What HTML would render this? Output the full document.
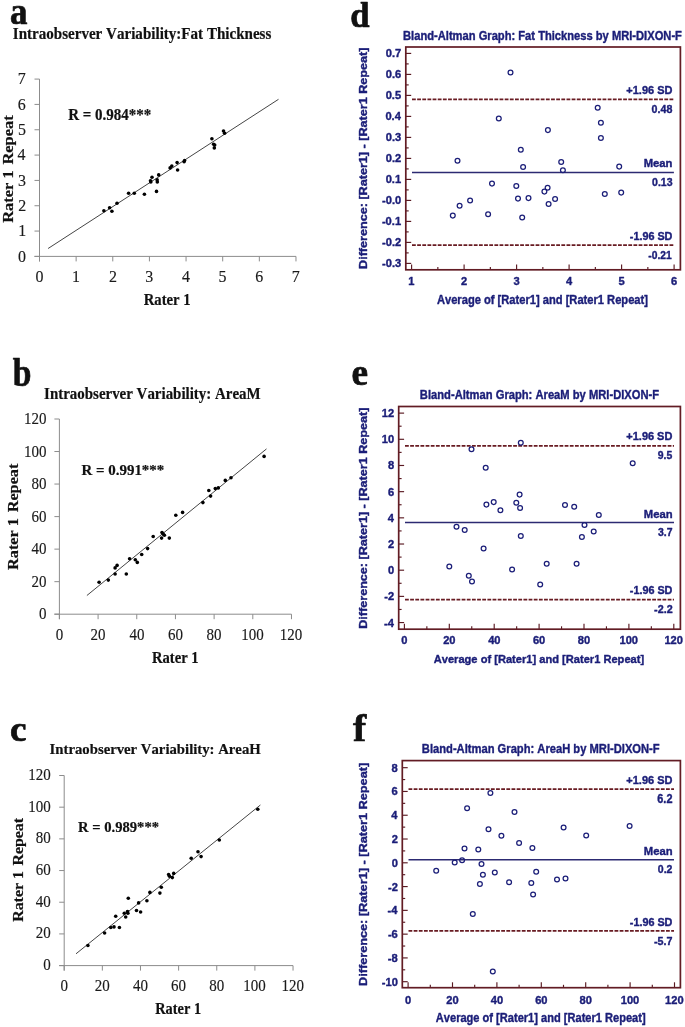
<!DOCTYPE html>
<html><head><meta charset="utf-8"><title>Figure</title>
<style>html,body{margin:0;padding:0;background:#fff;}svg{display:block;filter:blur(0.3px);}text{font-kerning:none;font-variant-ligatures:none;}</style>
</head><body>
<svg width="685" height="1027" viewBox="0 0 685 1027">
<rect width="685" height="1027" fill="#fff"/>
<text xml:space="preserve" transform="translate(9.98 23.53) scale(0.9137 1)" font-family='"Liberation Serif", serif' font-size="38.2" font-weight="bold" fill="#111" stroke="#111" stroke-width="0.7" stroke-linejoin="round">a</text>
<text xml:space="preserve" transform="translate(12.79 38.56) scale(0.9531 1)" font-family='"Liberation Serif", serif' font-size="15.82" font-weight="bold" fill="#111" stroke="#111" stroke-width="0.2" stroke-linejoin="round">Intraobserver Variability:Fat Thickness</text>
<line x1="39.5" y1="79.09" x2="39.5" y2="261.4" stroke="#8c8c8c" stroke-width="1"/>
<line x1="34.5" y1="256.4" x2="295.98" y2="256.4" stroke="#8c8c8c" stroke-width="1"/>
<line x1="39.5" y1="256.4" x2="39.5" y2="261.4" stroke="#8c8c8c" stroke-width="1"/>
<line x1="76.14" y1="256.4" x2="76.14" y2="261.4" stroke="#8c8c8c" stroke-width="1"/>
<line x1="112.78" y1="256.4" x2="112.78" y2="261.4" stroke="#8c8c8c" stroke-width="1"/>
<line x1="149.42" y1="256.4" x2="149.42" y2="261.4" stroke="#8c8c8c" stroke-width="1"/>
<line x1="186.06" y1="256.4" x2="186.06" y2="261.4" stroke="#8c8c8c" stroke-width="1"/>
<line x1="222.7" y1="256.4" x2="222.7" y2="261.4" stroke="#8c8c8c" stroke-width="1"/>
<line x1="259.34" y1="256.4" x2="259.34" y2="261.4" stroke="#8c8c8c" stroke-width="1"/>
<line x1="295.98" y1="256.4" x2="295.98" y2="261.4" stroke="#8c8c8c" stroke-width="1"/>
<line x1="34.5" y1="256.4" x2="39.5" y2="256.4" stroke="#8c8c8c" stroke-width="1"/>
<line x1="34.5" y1="231.07" x2="39.5" y2="231.07" stroke="#8c8c8c" stroke-width="1"/>
<line x1="34.5" y1="205.74" x2="39.5" y2="205.74" stroke="#8c8c8c" stroke-width="1"/>
<line x1="34.5" y1="180.41" x2="39.5" y2="180.41" stroke="#8c8c8c" stroke-width="1"/>
<line x1="34.5" y1="155.08" x2="39.5" y2="155.08" stroke="#8c8c8c" stroke-width="1"/>
<line x1="34.5" y1="129.75" x2="39.5" y2="129.75" stroke="#8c8c8c" stroke-width="1"/>
<line x1="34.5" y1="104.42" x2="39.5" y2="104.42" stroke="#8c8c8c" stroke-width="1"/>
<line x1="34.5" y1="79.09" x2="39.5" y2="79.09" stroke="#8c8c8c" stroke-width="1"/>
<text xml:space="preserve" transform="translate(17.92 261.54) scale(0.9800 1)" font-family='"Liberation Serif", serif' font-size="16.3" font-weight="normal" fill="#1a1a1a" stroke="#1a1a1a" stroke-width="0.15" stroke-linejoin="round">0</text>
<text xml:space="preserve" transform="translate(18.27 236.25) scale(0.9800 1)" font-family='"Liberation Serif", serif' font-size="16.3" font-weight="normal" fill="#1a1a1a" stroke="#1a1a1a" stroke-width="0.15" stroke-linejoin="round">1</text>
<text xml:space="preserve" transform="translate(18.19 210.94) scale(0.9800 1)" font-family='"Liberation Serif", serif' font-size="16.3" font-weight="normal" fill="#1a1a1a" stroke="#1a1a1a" stroke-width="0.15" stroke-linejoin="round">2</text>
<text xml:space="preserve" transform="translate(17.94 185.53) scale(0.9800 1)" font-family='"Liberation Serif", serif' font-size="16.3" font-weight="normal" fill="#1a1a1a" stroke="#1a1a1a" stroke-width="0.15" stroke-linejoin="round">3</text>
<text xml:space="preserve" transform="translate(17.56 160.24) scale(0.9800 1)" font-family='"Liberation Serif", serif' font-size="16.3" font-weight="normal" fill="#1a1a1a" stroke="#1a1a1a" stroke-width="0.15" stroke-linejoin="round">4</text>
<text xml:space="preserve" transform="translate(17.94 134.81) scale(0.9800 1)" font-family='"Liberation Serif", serif' font-size="16.3" font-weight="normal" fill="#1a1a1a" stroke="#1a1a1a" stroke-width="0.15" stroke-linejoin="round">5</text>
<text xml:space="preserve" transform="translate(17.79 109.54) scale(0.9800 1)" font-family='"Liberation Serif", serif' font-size="16.3" font-weight="normal" fill="#1a1a1a" stroke="#1a1a1a" stroke-width="0.15" stroke-linejoin="round">6</text>
<text xml:space="preserve" transform="translate(17.77 84.23) scale(0.9800 1)" font-family='"Liberation Serif", serif' font-size="16.3" font-weight="normal" fill="#1a1a1a" stroke="#1a1a1a" stroke-width="0.15" stroke-linejoin="round">7</text>
<text xml:space="preserve" transform="translate(35.51 282.24) scale(0.9800 1)" font-family='"Liberation Serif", serif' font-size="16.3" font-weight="normal" fill="#1a1a1a" stroke="#1a1a1a" stroke-width="0.15" stroke-linejoin="round">0</text>
<text xml:space="preserve" transform="translate(71.92 282.28) scale(0.9800 1)" font-family='"Liberation Serif", serif' font-size="16.3" font-weight="normal" fill="#1a1a1a" stroke="#1a1a1a" stroke-width="0.15" stroke-linejoin="round">1</text>
<text xml:space="preserve" transform="translate(108.88 282.3) scale(0.9800 1)" font-family='"Liberation Serif", serif' font-size="16.3" font-weight="normal" fill="#1a1a1a" stroke="#1a1a1a" stroke-width="0.15" stroke-linejoin="round">2</text>
<text xml:space="preserve" transform="translate(145.36 282.22) scale(0.9800 1)" font-family='"Liberation Serif", serif' font-size="16.3" font-weight="normal" fill="#1a1a1a" stroke="#1a1a1a" stroke-width="0.15" stroke-linejoin="round">3</text>
<text xml:space="preserve" transform="translate(182.04 282.26) scale(0.9800 1)" font-family='"Liberation Serif", serif' font-size="16.3" font-weight="normal" fill="#1a1a1a" stroke="#1a1a1a" stroke-width="0.15" stroke-linejoin="round">4</text>
<text xml:space="preserve" transform="translate(218.55 282.16) scale(0.9800 1)" font-family='"Liberation Serif", serif' font-size="16.3" font-weight="normal" fill="#1a1a1a" stroke="#1a1a1a" stroke-width="0.15" stroke-linejoin="round">5</text>
<text xml:space="preserve" transform="translate(255.24 282.22) scale(0.9800 1)" font-family='"Liberation Serif", serif' font-size="16.3" font-weight="normal" fill="#1a1a1a" stroke="#1a1a1a" stroke-width="0.15" stroke-linejoin="round">6</text>
<text xml:space="preserve" transform="translate(291.69 282.24) scale(0.9800 1)" font-family='"Liberation Serif", serif' font-size="16.3" font-weight="normal" fill="#1a1a1a" stroke="#1a1a1a" stroke-width="0.15" stroke-linejoin="round">7</text>
<line x1="48.1" y1="248.5" x2="278.5" y2="99.3" stroke="#454545" stroke-width="1"/>
<circle cx="103.9" cy="210.8" r="1.8" fill="#000"/>
<circle cx="109.6" cy="207.7" r="1.8" fill="#000"/>
<circle cx="111.9" cy="211.3" r="1.8" fill="#000"/>
<circle cx="117" cy="203.3" r="1.8" fill="#000"/>
<circle cx="128.6" cy="193.3" r="1.8" fill="#000"/>
<circle cx="134.3" cy="193.3" r="1.8" fill="#000"/>
<circle cx="144.4" cy="194.3" r="1.8" fill="#000"/>
<circle cx="152" cy="177.2" r="1.8" fill="#000"/>
<circle cx="150.5" cy="180.7" r="1.8" fill="#000"/>
<circle cx="150.8" cy="181.9" r="1.8" fill="#000"/>
<circle cx="156.5" cy="191.4" r="1.8" fill="#000"/>
<circle cx="157.1" cy="179.8" r="1.8" fill="#000"/>
<circle cx="157.3" cy="181.9" r="1.8" fill="#000"/>
<circle cx="158.7" cy="174.9" r="1.8" fill="#000"/>
<circle cx="170.1" cy="167.9" r="1.8" fill="#000"/>
<circle cx="171.8" cy="166.1" r="1.8" fill="#000"/>
<circle cx="177.1" cy="162.6" r="1.8" fill="#000"/>
<circle cx="177.6" cy="170" r="1.8" fill="#000"/>
<circle cx="184.1" cy="161.8" r="1.8" fill="#000"/>
<circle cx="184.6" cy="160.5" r="1.8" fill="#000"/>
<circle cx="211.9" cy="138.7" r="1.8" fill="#000"/>
<circle cx="213.6" cy="144.2" r="1.8" fill="#000"/>
<circle cx="214.7" cy="145" r="1.8" fill="#000"/>
<circle cx="214.3" cy="147.9" r="1.8" fill="#000"/>
<circle cx="223.5" cy="131" r="1.8" fill="#000"/>
<circle cx="224.6" cy="133.2" r="1.8" fill="#000"/>
<text xml:space="preserve" transform="translate(68.24 119.84) scale(0.9292 1)" font-family='"Liberation Serif", serif' font-size="16.15" font-weight="bold" fill="#111" stroke="#111" stroke-width="0.2" stroke-linejoin="round">R = 0.984***</text>
<text xml:space="preserve" transform="translate(143.65 304.7) scale(0.9170 1)" font-family='"Liberation Serif", serif' font-size="16.06" font-weight="bold" fill="#111" stroke="#111" stroke-width="0.2" stroke-linejoin="round">Rater 1</text>
<text xml:space="preserve" transform="translate(12.8 222.78) rotate(-90) scale(1.0627 1)" font-family='"Liberation Serif", serif' font-size="15.45" font-weight="bold" fill="#111" stroke="#111" stroke-width="0.2" stroke-linejoin="round">Rater 1 <tspan dx="1.55"></tspan><tspan dx="1.55">Repeat</tspan></text>
<text xml:space="preserve" transform="translate(12.87 386.42) scale(0.8567 1)" font-family='"Liberation Serif", serif' font-size="39.23" font-weight="bold" fill="#111" stroke="#111" stroke-width="0.7" stroke-linejoin="round">b</text>
<text xml:space="preserve" transform="translate(44.1 399.36) scale(0.9259 1)" font-family='"Liberation Serif", serif' font-size="16.14" font-weight="bold" fill="#111" stroke="#111" stroke-width="0.2" stroke-linejoin="round">Intraobserver Variability: AreaM</text>
<line x1="59.4" y1="419" x2="59.4" y2="619.2" stroke="#8c8c8c" stroke-width="1"/>
<line x1="54.4" y1="614.2" x2="291.48" y2="614.2" stroke="#8c8c8c" stroke-width="1"/>
<line x1="59.4" y1="614.2" x2="59.4" y2="619.2" stroke="#8c8c8c" stroke-width="1"/>
<line x1="98.08" y1="614.2" x2="98.08" y2="619.2" stroke="#8c8c8c" stroke-width="1"/>
<line x1="136.76" y1="614.2" x2="136.76" y2="619.2" stroke="#8c8c8c" stroke-width="1"/>
<line x1="175.44" y1="614.2" x2="175.44" y2="619.2" stroke="#8c8c8c" stroke-width="1"/>
<line x1="214.12" y1="614.2" x2="214.12" y2="619.2" stroke="#8c8c8c" stroke-width="1"/>
<line x1="252.8" y1="614.2" x2="252.8" y2="619.2" stroke="#8c8c8c" stroke-width="1"/>
<line x1="291.48" y1="614.2" x2="291.48" y2="619.2" stroke="#8c8c8c" stroke-width="1"/>
<line x1="54.4" y1="614.2" x2="59.4" y2="614.2" stroke="#8c8c8c" stroke-width="1"/>
<line x1="54.4" y1="581.67" x2="59.4" y2="581.67" stroke="#8c8c8c" stroke-width="1"/>
<line x1="54.4" y1="549.13" x2="59.4" y2="549.13" stroke="#8c8c8c" stroke-width="1"/>
<line x1="54.4" y1="516.6" x2="59.4" y2="516.6" stroke="#8c8c8c" stroke-width="1"/>
<line x1="54.4" y1="484.06" x2="59.4" y2="484.06" stroke="#8c8c8c" stroke-width="1"/>
<line x1="54.4" y1="451.53" x2="59.4" y2="451.53" stroke="#8c8c8c" stroke-width="1"/>
<line x1="54.4" y1="419" x2="59.4" y2="419" stroke="#8c8c8c" stroke-width="1"/>
<text xml:space="preserve" transform="translate(39.07 619.24) scale(0.9200 1)" font-family='"Liberation Serif", serif' font-size="16.3" font-weight="normal" fill="#1a1a1a" stroke="#1a1a1a" stroke-width="0.15" stroke-linejoin="round">0</text>
<text xml:space="preserve" transform="translate(31.58 586.71) scale(0.9200 1)" font-family='"Liberation Serif", serif' font-size="16.3" font-weight="normal" fill="#1a1a1a" stroke="#1a1a1a" stroke-width="0.15" stroke-linejoin="round">20</text>
<text xml:space="preserve" transform="translate(31.58 554.17) scale(0.9200 1)" font-family='"Liberation Serif", serif' font-size="16.3" font-weight="normal" fill="#1a1a1a" stroke="#1a1a1a" stroke-width="0.15" stroke-linejoin="round">40</text>
<text xml:space="preserve" transform="translate(31.58 521.64) scale(0.9200 1)" font-family='"Liberation Serif", serif' font-size="16.3" font-weight="normal" fill="#1a1a1a" stroke="#1a1a1a" stroke-width="0.15" stroke-linejoin="round">60</text>
<text xml:space="preserve" transform="translate(31.58 489.1) scale(0.9200 1)" font-family='"Liberation Serif", serif' font-size="16.3" font-weight="normal" fill="#1a1a1a" stroke="#1a1a1a" stroke-width="0.15" stroke-linejoin="round">80</text>
<text xml:space="preserve" transform="translate(24.08 456.57) scale(0.9200 1)" font-family='"Liberation Serif", serif' font-size="16.3" font-weight="normal" fill="#1a1a1a" stroke="#1a1a1a" stroke-width="0.15" stroke-linejoin="round">100</text>
<text xml:space="preserve" transform="translate(24.08 424.04) scale(0.9200 1)" font-family='"Liberation Serif", serif' font-size="16.3" font-weight="normal" fill="#1a1a1a" stroke="#1a1a1a" stroke-width="0.15" stroke-linejoin="round">120</text>
<text xml:space="preserve" transform="translate(55.65 639.54) scale(0.9200 1)" font-family='"Liberation Serif", serif' font-size="16.3" font-weight="normal" fill="#1a1a1a" stroke="#1a1a1a" stroke-width="0.15" stroke-linejoin="round">0</text>
<text xml:space="preserve" transform="translate(90.54 639.54) scale(0.9200 1)" font-family='"Liberation Serif", serif' font-size="16.3" font-weight="normal" fill="#1a1a1a" stroke="#1a1a1a" stroke-width="0.15" stroke-linejoin="round">20</text>
<text xml:space="preserve" transform="translate(129.4 639.54) scale(0.9200 1)" font-family='"Liberation Serif", serif' font-size="16.3" font-weight="normal" fill="#1a1a1a" stroke="#1a1a1a" stroke-width="0.15" stroke-linejoin="round">40</text>
<text xml:space="preserve" transform="translate(167.91 639.54) scale(0.9200 1)" font-family='"Liberation Serif", serif' font-size="16.3" font-weight="normal" fill="#1a1a1a" stroke="#1a1a1a" stroke-width="0.15" stroke-linejoin="round">60</text>
<text xml:space="preserve" transform="translate(206.62 639.54) scale(0.9200 1)" font-family='"Liberation Serif", serif' font-size="16.3" font-weight="normal" fill="#1a1a1a" stroke="#1a1a1a" stroke-width="0.15" stroke-linejoin="round">80</text>
<text xml:space="preserve" transform="translate(241.18 639.54) scale(0.9200 1)" font-family='"Liberation Serif", serif' font-size="16.3" font-weight="normal" fill="#1a1a1a" stroke="#1a1a1a" stroke-width="0.15" stroke-linejoin="round">100</text>
<text xml:space="preserve" transform="translate(279.86 639.54) scale(0.9200 1)" font-family='"Liberation Serif", serif' font-size="16.3" font-weight="normal" fill="#1a1a1a" stroke="#1a1a1a" stroke-width="0.15" stroke-linejoin="round">120</text>
<line x1="86.9" y1="595.5" x2="266.5" y2="448.9" stroke="#454545" stroke-width="1"/>
<circle cx="99.1" cy="582.2" r="1.8" fill="#000"/>
<circle cx="108.3" cy="580.1" r="1.8" fill="#000"/>
<circle cx="115.1" cy="574" r="1.8" fill="#000"/>
<circle cx="115.1" cy="567.9" r="1.8" fill="#000"/>
<circle cx="117.1" cy="565.4" r="1.8" fill="#000"/>
<circle cx="126.3" cy="574" r="1.8" fill="#000"/>
<circle cx="129.6" cy="558.7" r="1.8" fill="#000"/>
<circle cx="135.3" cy="559.7" r="1.8" fill="#000"/>
<circle cx="137.3" cy="562.4" r="1.8" fill="#000"/>
<circle cx="141.7" cy="554.5" r="1.8" fill="#000"/>
<circle cx="147.6" cy="548.6" r="1.8" fill="#000"/>
<circle cx="153.2" cy="536.5" r="1.8" fill="#000"/>
<circle cx="162" cy="532.5" r="1.8" fill="#000"/>
<circle cx="161.6" cy="538.1" r="1.8" fill="#000"/>
<circle cx="164.4" cy="535.3" r="1.8" fill="#000"/>
<circle cx="163.2" cy="534.1" r="1.8" fill="#000"/>
<circle cx="169.3" cy="538.1" r="1.8" fill="#000"/>
<circle cx="175.8" cy="515.2" r="1.8" fill="#000"/>
<circle cx="182.6" cy="512.4" r="1.8" fill="#000"/>
<circle cx="202.9" cy="502.6" r="1.8" fill="#000"/>
<circle cx="208.8" cy="490.5" r="1.8" fill="#000"/>
<circle cx="210.6" cy="496.1" r="1.8" fill="#000"/>
<circle cx="215.3" cy="488.6" r="1.8" fill="#000"/>
<circle cx="218.3" cy="487.9" r="1.8" fill="#000"/>
<circle cx="225.3" cy="480.4" r="1.8" fill="#000"/>
<circle cx="231" cy="477.8" r="1.8" fill="#000"/>
<circle cx="264.1" cy="456.4" r="1.8" fill="#000"/>
<text xml:space="preserve" transform="translate(81.44 475.45) scale(0.9991 1)" font-family='"Liberation Serif", serif' font-size="14.97" font-weight="bold" fill="#111" stroke="#111" stroke-width="0.2" stroke-linejoin="round">R = 0.991***</text>
<text xml:space="preserve" transform="translate(151.95 662.8) scale(0.8860 1)" font-family='"Liberation Serif", serif' font-size="16.51" font-weight="bold" fill="#111" stroke="#111" stroke-width="0.2" stroke-linejoin="round">Rater 1</text>
<text xml:space="preserve" transform="translate(18.4 569.88) rotate(-90) scale(1.0519 1)" font-family='"Liberation Serif", serif' font-size="15.45" font-weight="bold" fill="#111" stroke="#111" stroke-width="0.2" stroke-linejoin="round">Rater 1 <tspan dx="1.55"></tspan><tspan dx="1.55">Repeat</tspan></text>
<text xml:space="preserve" transform="translate(9.93 740.56) scale(1.0263 1)" font-family='"Liberation Serif", serif' font-size="36.21" font-weight="bold" fill="#111" stroke="#111" stroke-width="0.7" stroke-linejoin="round">c</text>
<text xml:space="preserve" transform="translate(49.6 754.17) scale(0.9576 1)" font-family='"Liberation Serif", serif' font-size="15.4" font-weight="bold" fill="#111" stroke="#111" stroke-width="0.2" stroke-linejoin="round">Intraobserver Variability: AreaH</text>
<line x1="64.2" y1="775.5" x2="64.2" y2="970.6" stroke="#8c8c8c" stroke-width="1"/>
<line x1="59.2" y1="965.6" x2="293.04" y2="965.6" stroke="#8c8c8c" stroke-width="1"/>
<line x1="64.2" y1="965.6" x2="64.2" y2="970.6" stroke="#8c8c8c" stroke-width="1"/>
<line x1="102.34" y1="965.6" x2="102.34" y2="970.6" stroke="#8c8c8c" stroke-width="1"/>
<line x1="140.48" y1="965.6" x2="140.48" y2="970.6" stroke="#8c8c8c" stroke-width="1"/>
<line x1="178.62" y1="965.6" x2="178.62" y2="970.6" stroke="#8c8c8c" stroke-width="1"/>
<line x1="216.76" y1="965.6" x2="216.76" y2="970.6" stroke="#8c8c8c" stroke-width="1"/>
<line x1="254.9" y1="965.6" x2="254.9" y2="970.6" stroke="#8c8c8c" stroke-width="1"/>
<line x1="293.04" y1="965.6" x2="293.04" y2="970.6" stroke="#8c8c8c" stroke-width="1"/>
<line x1="59.2" y1="965.6" x2="64.2" y2="965.6" stroke="#8c8c8c" stroke-width="1"/>
<line x1="59.2" y1="933.92" x2="64.2" y2="933.92" stroke="#8c8c8c" stroke-width="1"/>
<line x1="59.2" y1="902.23" x2="64.2" y2="902.23" stroke="#8c8c8c" stroke-width="1"/>
<line x1="59.2" y1="870.55" x2="64.2" y2="870.55" stroke="#8c8c8c" stroke-width="1"/>
<line x1="59.2" y1="838.86" x2="64.2" y2="838.86" stroke="#8c8c8c" stroke-width="1"/>
<line x1="59.2" y1="807.18" x2="64.2" y2="807.18" stroke="#8c8c8c" stroke-width="1"/>
<line x1="59.2" y1="775.5" x2="64.2" y2="775.5" stroke="#8c8c8c" stroke-width="1"/>
<text xml:space="preserve" transform="translate(43.17 970.14) scale(0.9200 1)" font-family='"Liberation Serif", serif' font-size="16.3" font-weight="normal" fill="#1a1a1a" stroke="#1a1a1a" stroke-width="0.15" stroke-linejoin="round">0</text>
<text xml:space="preserve" transform="translate(35.68 938.46) scale(0.9200 1)" font-family='"Liberation Serif", serif' font-size="16.3" font-weight="normal" fill="#1a1a1a" stroke="#1a1a1a" stroke-width="0.15" stroke-linejoin="round">20</text>
<text xml:space="preserve" transform="translate(35.68 906.77) scale(0.9200 1)" font-family='"Liberation Serif", serif' font-size="16.3" font-weight="normal" fill="#1a1a1a" stroke="#1a1a1a" stroke-width="0.15" stroke-linejoin="round">40</text>
<text xml:space="preserve" transform="translate(35.68 875.09) scale(0.9200 1)" font-family='"Liberation Serif", serif' font-size="16.3" font-weight="normal" fill="#1a1a1a" stroke="#1a1a1a" stroke-width="0.15" stroke-linejoin="round">60</text>
<text xml:space="preserve" transform="translate(35.68 843.4) scale(0.9200 1)" font-family='"Liberation Serif", serif' font-size="16.3" font-weight="normal" fill="#1a1a1a" stroke="#1a1a1a" stroke-width="0.15" stroke-linejoin="round">80</text>
<text xml:space="preserve" transform="translate(28.18 811.72) scale(0.9200 1)" font-family='"Liberation Serif", serif' font-size="16.3" font-weight="normal" fill="#1a1a1a" stroke="#1a1a1a" stroke-width="0.15" stroke-linejoin="round">100</text>
<text xml:space="preserve" transform="translate(28.18 780.04) scale(0.9200 1)" font-family='"Liberation Serif", serif' font-size="16.3" font-weight="normal" fill="#1a1a1a" stroke="#1a1a1a" stroke-width="0.15" stroke-linejoin="round">120</text>
<text xml:space="preserve" transform="translate(60.45 991.44) scale(0.9200 1)" font-family='"Liberation Serif", serif' font-size="16.3" font-weight="normal" fill="#1a1a1a" stroke="#1a1a1a" stroke-width="0.15" stroke-linejoin="round">0</text>
<text xml:space="preserve" transform="translate(94.8 991.44) scale(0.9200 1)" font-family='"Liberation Serif", serif' font-size="16.3" font-weight="normal" fill="#1a1a1a" stroke="#1a1a1a" stroke-width="0.15" stroke-linejoin="round">20</text>
<text xml:space="preserve" transform="translate(133.12 991.44) scale(0.9200 1)" font-family='"Liberation Serif", serif' font-size="16.3" font-weight="normal" fill="#1a1a1a" stroke="#1a1a1a" stroke-width="0.15" stroke-linejoin="round">40</text>
<text xml:space="preserve" transform="translate(171.09 991.44) scale(0.9200 1)" font-family='"Liberation Serif", serif' font-size="16.3" font-weight="normal" fill="#1a1a1a" stroke="#1a1a1a" stroke-width="0.15" stroke-linejoin="round">60</text>
<text xml:space="preserve" transform="translate(209.26 991.44) scale(0.9200 1)" font-family='"Liberation Serif", serif' font-size="16.3" font-weight="normal" fill="#1a1a1a" stroke="#1a1a1a" stroke-width="0.15" stroke-linejoin="round">80</text>
<text xml:space="preserve" transform="translate(243.28 991.44) scale(0.9200 1)" font-family='"Liberation Serif", serif' font-size="16.3" font-weight="normal" fill="#1a1a1a" stroke="#1a1a1a" stroke-width="0.15" stroke-linejoin="round">100</text>
<text xml:space="preserve" transform="translate(281.42 991.44) scale(0.9200 1)" font-family='"Liberation Serif", serif' font-size="16.3" font-weight="normal" fill="#1a1a1a" stroke="#1a1a1a" stroke-width="0.15" stroke-linejoin="round">120</text>
<line x1="76" y1="953.8" x2="260.4" y2="805" stroke="#454545" stroke-width="1"/>
<circle cx="87.9" cy="945.5" r="1.8" fill="#000"/>
<circle cx="104.6" cy="933" r="1.8" fill="#000"/>
<circle cx="110.8" cy="927.5" r="1.8" fill="#000"/>
<circle cx="114" cy="926.9" r="1.8" fill="#000"/>
<circle cx="119.4" cy="927.5" r="1.8" fill="#000"/>
<circle cx="115.7" cy="916.2" r="1.8" fill="#000"/>
<circle cx="124.3" cy="913.2" r="1.8" fill="#000"/>
<circle cx="125.7" cy="917" r="1.8" fill="#000"/>
<circle cx="127.5" cy="911.5" r="1.8" fill="#000"/>
<circle cx="127.9" cy="913.2" r="1.8" fill="#000"/>
<circle cx="128.3" cy="898.2" r="1.8" fill="#000"/>
<circle cx="136.5" cy="910.5" r="1.8" fill="#000"/>
<circle cx="138.6" cy="902.9" r="1.8" fill="#000"/>
<circle cx="140.6" cy="912" r="1.8" fill="#000"/>
<circle cx="146.9" cy="900.8" r="1.8" fill="#000"/>
<circle cx="149.9" cy="892.4" r="1.8" fill="#000"/>
<circle cx="159.9" cy="893.1" r="1.8" fill="#000"/>
<circle cx="161.3" cy="887.2" r="1.8" fill="#000"/>
<circle cx="168.6" cy="874.6" r="1.8" fill="#000"/>
<circle cx="169.5" cy="876.2" r="1.8" fill="#000"/>
<circle cx="172.3" cy="877.6" r="1.8" fill="#000"/>
<circle cx="173.7" cy="873.4" r="1.8" fill="#000"/>
<circle cx="191.2" cy="858.3" r="1.8" fill="#000"/>
<circle cx="198" cy="851.7" r="1.8" fill="#000"/>
<circle cx="201.1" cy="856.6" r="1.8" fill="#000"/>
<circle cx="219.3" cy="840" r="1.8" fill="#000"/>
<circle cx="257.8" cy="809.2" r="1.8" fill="#000"/>
<text xml:space="preserve" transform="translate(78.05 831.66) scale(1.0071 1)" font-family='"Liberation Serif", serif' font-size="14.52" font-weight="bold" fill="#111" stroke="#111" stroke-width="0.2" stroke-linejoin="round">R = 0.989***</text>
<text xml:space="preserve" transform="translate(155.25 1013.6) scale(0.8626 1)" font-family='"Liberation Serif", serif' font-size="16.66" font-weight="bold" fill="#111" stroke="#111" stroke-width="0.2" stroke-linejoin="round">Rater 1</text>
<text xml:space="preserve" transform="translate(22.8 921.77) rotate(-90) scale(1.0376 1)" font-family='"Liberation Serif", serif' font-size="15.3" font-weight="bold" fill="#111" stroke="#111" stroke-width="0.2" stroke-linejoin="round">Rater 1 <tspan dx="1.53"></tspan><tspan dx="1.53">Repeat</tspan></text>
<text xml:space="preserve" transform="translate(350.29 27.25) scale(0.9649 1)" font-family='"Liberation Serif", serif' font-size="35.96" font-weight="bold" fill="#111" stroke="#111" stroke-width="0.7" stroke-linejoin="round">d</text>
<text xml:space="preserve" transform="translate(403.05 39.68) scale(0.8990 1)" font-family='"Liberation Sans", sans-serif' font-size="12.43" font-weight="bold" fill="#1b1e78" stroke="#1b1e78" stroke-width="0.4" stroke-linejoin="round">Bland-Altman Graph: Fat Thickness by MRI-DIXON-F</text>
<line x1="405.8" y1="263.4" x2="411.2" y2="263.4" stroke="#5a1a22" stroke-width="1.15"/>
<line x1="405.8" y1="252.9" x2="408.7" y2="252.9" stroke="#5a1a22" stroke-width="1.15"/>
<line x1="405.8" y1="242.4" x2="411.2" y2="242.4" stroke="#5a1a22" stroke-width="1.15"/>
<line x1="405.8" y1="231.9" x2="408.7" y2="231.9" stroke="#5a1a22" stroke-width="1.15"/>
<line x1="405.8" y1="221.4" x2="411.2" y2="221.4" stroke="#5a1a22" stroke-width="1.15"/>
<line x1="405.8" y1="210.9" x2="408.7" y2="210.9" stroke="#5a1a22" stroke-width="1.15"/>
<line x1="405.8" y1="200.4" x2="411.2" y2="200.4" stroke="#5a1a22" stroke-width="1.15"/>
<line x1="405.8" y1="189.9" x2="408.7" y2="189.9" stroke="#5a1a22" stroke-width="1.15"/>
<line x1="405.8" y1="179.4" x2="411.2" y2="179.4" stroke="#5a1a22" stroke-width="1.15"/>
<line x1="405.8" y1="168.9" x2="408.7" y2="168.9" stroke="#5a1a22" stroke-width="1.15"/>
<line x1="405.8" y1="158.4" x2="411.2" y2="158.4" stroke="#5a1a22" stroke-width="1.15"/>
<line x1="405.8" y1="147.9" x2="408.7" y2="147.9" stroke="#5a1a22" stroke-width="1.15"/>
<line x1="405.8" y1="137.4" x2="411.2" y2="137.4" stroke="#5a1a22" stroke-width="1.15"/>
<line x1="405.8" y1="126.9" x2="408.7" y2="126.9" stroke="#5a1a22" stroke-width="1.15"/>
<line x1="405.8" y1="116.4" x2="411.2" y2="116.4" stroke="#5a1a22" stroke-width="1.15"/>
<line x1="405.8" y1="105.9" x2="408.7" y2="105.9" stroke="#5a1a22" stroke-width="1.15"/>
<line x1="405.8" y1="95.4" x2="411.2" y2="95.4" stroke="#5a1a22" stroke-width="1.15"/>
<line x1="405.8" y1="84.9" x2="408.7" y2="84.9" stroke="#5a1a22" stroke-width="1.15"/>
<line x1="405.8" y1="74.4" x2="411.2" y2="74.4" stroke="#5a1a22" stroke-width="1.15"/>
<line x1="405.8" y1="63.9" x2="408.7" y2="63.9" stroke="#5a1a22" stroke-width="1.15"/>
<line x1="405.8" y1="53.4" x2="411.2" y2="53.4" stroke="#5a1a22" stroke-width="1.15"/>
<line x1="411.6" y1="269.8" x2="411.6" y2="264.4" stroke="#5a1a22" stroke-width="1.15"/>
<line x1="437.85" y1="269.8" x2="437.85" y2="266.9" stroke="#5a1a22" stroke-width="1.15"/>
<line x1="464.1" y1="269.8" x2="464.1" y2="264.4" stroke="#5a1a22" stroke-width="1.15"/>
<line x1="490.35" y1="269.8" x2="490.35" y2="266.9" stroke="#5a1a22" stroke-width="1.15"/>
<line x1="516.6" y1="269.8" x2="516.6" y2="264.4" stroke="#5a1a22" stroke-width="1.15"/>
<line x1="542.85" y1="269.8" x2="542.85" y2="266.9" stroke="#5a1a22" stroke-width="1.15"/>
<line x1="569.1" y1="269.8" x2="569.1" y2="264.4" stroke="#5a1a22" stroke-width="1.15"/>
<line x1="595.35" y1="269.8" x2="595.35" y2="266.9" stroke="#5a1a22" stroke-width="1.15"/>
<line x1="621.6" y1="269.8" x2="621.6" y2="264.4" stroke="#5a1a22" stroke-width="1.15"/>
<line x1="647.85" y1="269.8" x2="647.85" y2="266.9" stroke="#5a1a22" stroke-width="1.15"/>
<line x1="674.1" y1="269.8" x2="674.1" y2="264.4" stroke="#5a1a22" stroke-width="1.15"/>
<rect x="405.8" y="47" width="274.6" height="222.8" fill="none" stroke="#621c24" stroke-width="1.7"/>
<text xml:space="preserve" transform="translate(385.81 57.39) scale(0.9600 1)" font-family='"Liberation Sans", sans-serif' font-size="11.6" font-weight="bold" fill="#1b1e78" stroke="#1b1e78" stroke-width="0.4" stroke-linejoin="round">0.7</text>
<text xml:space="preserve" transform="translate(385.72 78.39) scale(0.9600 1)" font-family='"Liberation Sans", sans-serif' font-size="11.6" font-weight="bold" fill="#1b1e78" stroke="#1b1e78" stroke-width="0.4" stroke-linejoin="round">0.6</text>
<text xml:space="preserve" transform="translate(385.63 99.39) scale(0.9600 1)" font-family='"Liberation Sans", sans-serif' font-size="11.6" font-weight="bold" fill="#1b1e78" stroke="#1b1e78" stroke-width="0.4" stroke-linejoin="round">0.5</text>
<text xml:space="preserve" transform="translate(385.38 120.39) scale(0.9600 1)" font-family='"Liberation Sans", sans-serif' font-size="11.6" font-weight="bold" fill="#1b1e78" stroke="#1b1e78" stroke-width="0.4" stroke-linejoin="round">0.4</text>
<text xml:space="preserve" transform="translate(385.72 141.38) scale(0.9600 1)" font-family='"Liberation Sans", sans-serif' font-size="11.6" font-weight="bold" fill="#1b1e78" stroke="#1b1e78" stroke-width="0.4" stroke-linejoin="round">0.3</text>
<text xml:space="preserve" transform="translate(385.77 162.39) scale(0.9600 1)" font-family='"Liberation Sans", sans-serif' font-size="11.6" font-weight="bold" fill="#1b1e78" stroke="#1b1e78" stroke-width="0.4" stroke-linejoin="round">0.2</text>
<text xml:space="preserve" transform="translate(385.63 183.39) scale(0.9600 1)" font-family='"Liberation Sans", sans-serif' font-size="11.6" font-weight="bold" fill="#1b1e78" stroke="#1b1e78" stroke-width="0.4" stroke-linejoin="round">0.1</text>
<text xml:space="preserve" transform="translate(382.07 204.39) scale(0.9600 1)" font-family='"Liberation Sans", sans-serif' font-size="11.6" font-weight="bold" fill="#1b1e78" stroke="#1b1e78" stroke-width="0.4" stroke-linejoin="round">-0.0</text>
<text xml:space="preserve" transform="translate(381.92 225.39) scale(0.9600 1)" font-family='"Liberation Sans", sans-serif' font-size="11.6" font-weight="bold" fill="#1b1e78" stroke="#1b1e78" stroke-width="0.4" stroke-linejoin="round">-0.1</text>
<text xml:space="preserve" transform="translate(382.06 246.39) scale(0.9600 1)" font-family='"Liberation Sans", sans-serif' font-size="11.6" font-weight="bold" fill="#1b1e78" stroke="#1b1e78" stroke-width="0.4" stroke-linejoin="round">-0.2</text>
<text xml:space="preserve" transform="translate(382.01 267.38) scale(0.9600 1)" font-family='"Liberation Sans", sans-serif' font-size="11.6" font-weight="bold" fill="#1b1e78" stroke="#1b1e78" stroke-width="0.4" stroke-linejoin="round">-0.3</text>
<text xml:space="preserve" transform="translate(408.31 284.99) scale(0.9600 1)" font-family='"Liberation Sans", sans-serif' font-size="11.6" font-weight="bold" fill="#1b1e78" stroke="#1b1e78" stroke-width="0.4" stroke-linejoin="round">1</text>
<text xml:space="preserve" transform="translate(461.03 285.05) scale(0.9600 1)" font-family='"Liberation Sans", sans-serif' font-size="11.6" font-weight="bold" fill="#1b1e78" stroke="#1b1e78" stroke-width="0.4" stroke-linejoin="round">2</text>
<text xml:space="preserve" transform="translate(513.58 284.98) scale(0.9600 1)" font-family='"Liberation Sans", sans-serif' font-size="11.6" font-weight="bold" fill="#1b1e78" stroke="#1b1e78" stroke-width="0.4" stroke-linejoin="round">3</text>
<text xml:space="preserve" transform="translate(565.95 284.99) scale(0.9600 1)" font-family='"Liberation Sans", sans-serif' font-size="11.6" font-weight="bold" fill="#1b1e78" stroke="#1b1e78" stroke-width="0.4" stroke-linejoin="round">4</text>
<text xml:space="preserve" transform="translate(618.49 284.93) scale(0.9600 1)" font-family='"Liberation Sans", sans-serif' font-size="11.6" font-weight="bold" fill="#1b1e78" stroke="#1b1e78" stroke-width="0.4" stroke-linejoin="round">5</text>
<text xml:space="preserve" transform="translate(671 284.99) scale(0.9600 1)" font-family='"Liberation Sans", sans-serif' font-size="11.6" font-weight="bold" fill="#1b1e78" stroke="#1b1e78" stroke-width="0.4" stroke-linejoin="round">6</text>
<line x1="412" y1="99.45" x2="673.9" y2="99.45" stroke="#681b22" stroke-width="1.75" stroke-dasharray="3.8 1.35"/>
<line x1="412" y1="245" x2="673.9" y2="245" stroke="#681b22" stroke-width="1.75" stroke-dasharray="3.8 1.35"/>
<line x1="412" y1="172.5" x2="673.9" y2="172.5" stroke="#2c2a72" stroke-width="1.5"/>
<text xml:space="preserve" transform="translate(626.34 94.19) scale(0.9725 1)" font-family='"Liberation Sans", sans-serif' font-size="11.3" font-weight="bold" fill="#1b1e78" stroke="#1b1e78" stroke-width="0.4" stroke-linejoin="round">+1.96 SD</text>
<text xml:space="preserve" transform="translate(651.58 113.19) scale(0.9435 1)" font-family='"Liberation Sans", sans-serif' font-size="11.3" font-weight="bold" fill="#1b1e78" stroke="#1b1e78" stroke-width="0.4" stroke-linejoin="round">0.48</text>
<text xml:space="preserve" transform="translate(643.75 167.2) scale(1.0182 1)" font-family='"Liberation Sans", sans-serif' font-size="11.05" font-weight="bold" fill="#1b1e78" stroke="#1b1e78" stroke-width="0.4" stroke-linejoin="round">Mean</text>
<text xml:space="preserve" transform="translate(652.08 185.67) scale(0.9458 1)" font-family='"Liberation Sans", sans-serif' font-size="11.14" font-weight="bold" fill="#1b1e78" stroke="#1b1e78" stroke-width="0.4" stroke-linejoin="round">0.13</text>
<text xml:space="preserve" transform="translate(629.78 239.89) scale(0.9816 1)" font-family='"Liberation Sans", sans-serif' font-size="11.02" font-weight="bold" fill="#1b1e78" stroke="#1b1e78" stroke-width="0.4" stroke-linejoin="round">-1.96 SD</text>
<text xml:space="preserve" transform="translate(648.3 258.79) scale(0.9008 1)" font-family='"Liberation Sans", sans-serif' font-size="11.44" font-weight="bold" fill="#1b1e78" stroke="#1b1e78" stroke-width="0.4" stroke-linejoin="round">-0.21</text>
<circle cx="510.5" cy="72.4" r="2.4" fill="none" stroke="#1b1e78" stroke-width="1.25"/>
<circle cx="498.8" cy="118.4" r="2.4" fill="none" stroke="#1b1e78" stroke-width="1.25"/>
<circle cx="547.9" cy="130.1" r="2.4" fill="none" stroke="#1b1e78" stroke-width="1.25"/>
<circle cx="520.8" cy="149.7" r="2.4" fill="none" stroke="#1b1e78" stroke-width="1.25"/>
<circle cx="457.5" cy="160.7" r="2.4" fill="none" stroke="#1b1e78" stroke-width="1.25"/>
<circle cx="523.1" cy="167" r="2.4" fill="none" stroke="#1b1e78" stroke-width="1.25"/>
<circle cx="561.2" cy="162" r="2.4" fill="none" stroke="#1b1e78" stroke-width="1.25"/>
<circle cx="562.9" cy="170.2" r="2.4" fill="none" stroke="#1b1e78" stroke-width="1.25"/>
<circle cx="492" cy="183.6" r="2.4" fill="none" stroke="#1b1e78" stroke-width="1.25"/>
<circle cx="516.3" cy="186" r="2.4" fill="none" stroke="#1b1e78" stroke-width="1.25"/>
<circle cx="547.6" cy="187.8" r="2.4" fill="none" stroke="#1b1e78" stroke-width="1.25"/>
<circle cx="544.4" cy="191.6" r="2.4" fill="none" stroke="#1b1e78" stroke-width="1.25"/>
<circle cx="470.1" cy="200.4" r="2.4" fill="none" stroke="#1b1e78" stroke-width="1.25"/>
<circle cx="518" cy="198.6" r="2.4" fill="none" stroke="#1b1e78" stroke-width="1.25"/>
<circle cx="528.5" cy="198.1" r="2.4" fill="none" stroke="#1b1e78" stroke-width="1.25"/>
<circle cx="555.1" cy="199" r="2.4" fill="none" stroke="#1b1e78" stroke-width="1.25"/>
<circle cx="459.6" cy="205.8" r="2.4" fill="none" stroke="#1b1e78" stroke-width="1.25"/>
<circle cx="548.6" cy="203.9" r="2.4" fill="none" stroke="#1b1e78" stroke-width="1.25"/>
<circle cx="452.8" cy="215.6" r="2.4" fill="none" stroke="#1b1e78" stroke-width="1.25"/>
<circle cx="488.1" cy="214.2" r="2.4" fill="none" stroke="#1b1e78" stroke-width="1.25"/>
<circle cx="522.2" cy="217.5" r="2.4" fill="none" stroke="#1b1e78" stroke-width="1.25"/>
<circle cx="597.7" cy="107.8" r="2.4" fill="none" stroke="#1b1e78" stroke-width="1.25"/>
<circle cx="600.9" cy="122.7" r="2.4" fill="none" stroke="#1b1e78" stroke-width="1.25"/>
<circle cx="600.9" cy="137.9" r="2.4" fill="none" stroke="#1b1e78" stroke-width="1.25"/>
<circle cx="619.2" cy="166.6" r="2.4" fill="none" stroke="#1b1e78" stroke-width="1.25"/>
<circle cx="604.8" cy="194" r="2.4" fill="none" stroke="#1b1e78" stroke-width="1.25"/>
<circle cx="621.2" cy="192.6" r="2.4" fill="none" stroke="#1b1e78" stroke-width="1.25"/>
<text xml:space="preserve" transform="translate(436.92 303.8) scale(0.8818 1)" font-family='"Liberation Sans", sans-serif' font-size="12.65" font-weight="bold" fill="#1b1e78" stroke="#1b1e78" stroke-width="0.4" stroke-linejoin="round">Average of [Rater1] and [Rater1 Repeat]</text>
<text xml:space="preserve" transform="translate(366.9 268.94) rotate(-90) scale(1.1123 1)" font-family='"Liberation Sans", sans-serif' font-size="11.34" font-weight="bold" fill="#1b1e78" stroke="#1b1e78" stroke-width="0.4" stroke-linejoin="round">Difference: [Rater1] - [Rater1 Repeat]</text>
<text xml:space="preserve" transform="translate(351.43 384.86) scale(1.0037 1)" font-family='"Liberation Serif", serif' font-size="37.12" font-weight="bold" fill="#111" stroke="#111" stroke-width="0.7" stroke-linejoin="round">e</text>
<text xml:space="preserve" transform="translate(419.85 399.18) scale(0.8807 1)" font-family='"Liberation Sans", sans-serif' font-size="12.71" font-weight="bold" fill="#1b1e78" stroke="#1b1e78" stroke-width="0.4" stroke-linejoin="round">Bland-Altman Graph: AreaM by MRI-DIXON-F</text>
<line x1="398.7" y1="622.56" x2="404.1" y2="622.56" stroke="#5a1a22" stroke-width="1.15"/>
<line x1="398.7" y1="609.47" x2="401.6" y2="609.47" stroke="#5a1a22" stroke-width="1.15"/>
<line x1="398.7" y1="596.38" x2="404.1" y2="596.38" stroke="#5a1a22" stroke-width="1.15"/>
<line x1="398.7" y1="583.29" x2="401.6" y2="583.29" stroke="#5a1a22" stroke-width="1.15"/>
<line x1="398.7" y1="570.2" x2="404.1" y2="570.2" stroke="#5a1a22" stroke-width="1.15"/>
<line x1="398.7" y1="557.11" x2="401.6" y2="557.11" stroke="#5a1a22" stroke-width="1.15"/>
<line x1="398.7" y1="544.02" x2="404.1" y2="544.02" stroke="#5a1a22" stroke-width="1.15"/>
<line x1="398.7" y1="530.93" x2="401.6" y2="530.93" stroke="#5a1a22" stroke-width="1.15"/>
<line x1="398.7" y1="517.84" x2="404.1" y2="517.84" stroke="#5a1a22" stroke-width="1.15"/>
<line x1="398.7" y1="504.75" x2="401.6" y2="504.75" stroke="#5a1a22" stroke-width="1.15"/>
<line x1="398.7" y1="491.66" x2="404.1" y2="491.66" stroke="#5a1a22" stroke-width="1.15"/>
<line x1="398.7" y1="478.57" x2="401.6" y2="478.57" stroke="#5a1a22" stroke-width="1.15"/>
<line x1="398.7" y1="465.48" x2="404.1" y2="465.48" stroke="#5a1a22" stroke-width="1.15"/>
<line x1="398.7" y1="452.39" x2="401.6" y2="452.39" stroke="#5a1a22" stroke-width="1.15"/>
<line x1="398.7" y1="439.3" x2="404.1" y2="439.3" stroke="#5a1a22" stroke-width="1.15"/>
<line x1="398.7" y1="426.21" x2="401.6" y2="426.21" stroke="#5a1a22" stroke-width="1.15"/>
<line x1="398.7" y1="413.12" x2="404.1" y2="413.12" stroke="#5a1a22" stroke-width="1.15"/>
<line x1="404.4" y1="629.2" x2="404.4" y2="623.8" stroke="#5a1a22" stroke-width="1.15"/>
<line x1="426.85" y1="629.2" x2="426.85" y2="626.3" stroke="#5a1a22" stroke-width="1.15"/>
<line x1="449.3" y1="629.2" x2="449.3" y2="623.8" stroke="#5a1a22" stroke-width="1.15"/>
<line x1="471.75" y1="629.2" x2="471.75" y2="626.3" stroke="#5a1a22" stroke-width="1.15"/>
<line x1="494.2" y1="629.2" x2="494.2" y2="623.8" stroke="#5a1a22" stroke-width="1.15"/>
<line x1="516.65" y1="629.2" x2="516.65" y2="626.3" stroke="#5a1a22" stroke-width="1.15"/>
<line x1="539.1" y1="629.2" x2="539.1" y2="623.8" stroke="#5a1a22" stroke-width="1.15"/>
<line x1="561.55" y1="629.2" x2="561.55" y2="626.3" stroke="#5a1a22" stroke-width="1.15"/>
<line x1="584" y1="629.2" x2="584" y2="623.8" stroke="#5a1a22" stroke-width="1.15"/>
<line x1="606.45" y1="629.2" x2="606.45" y2="626.3" stroke="#5a1a22" stroke-width="1.15"/>
<line x1="628.9" y1="629.2" x2="628.9" y2="623.8" stroke="#5a1a22" stroke-width="1.15"/>
<line x1="651.35" y1="629.2" x2="651.35" y2="626.3" stroke="#5a1a22" stroke-width="1.15"/>
<line x1="673.8" y1="629.2" x2="673.8" y2="623.8" stroke="#5a1a22" stroke-width="1.15"/>
<rect x="398.7" y="406.5" width="281.7" height="222.7" fill="none" stroke="#621c24" stroke-width="1.7"/>
<text xml:space="preserve" transform="translate(381.86 417.17) scale(0.9600 1)" font-family='"Liberation Sans", sans-serif' font-size="11.6" font-weight="bold" fill="#1b1e78" stroke="#1b1e78" stroke-width="0.4" stroke-linejoin="round">12</text>
<text xml:space="preserve" transform="translate(381.87 443.29) scale(0.9600 1)" font-family='"Liberation Sans", sans-serif' font-size="11.6" font-weight="bold" fill="#1b1e78" stroke="#1b1e78" stroke-width="0.4" stroke-linejoin="round">10</text>
<text xml:space="preserve" transform="translate(387.95 469.47) scale(0.9600 1)" font-family='"Liberation Sans", sans-serif' font-size="11.6" font-weight="bold" fill="#1b1e78" stroke="#1b1e78" stroke-width="0.4" stroke-linejoin="round">8</text>
<text xml:space="preserve" transform="translate(388.01 495.65) scale(0.9600 1)" font-family='"Liberation Sans", sans-serif' font-size="11.6" font-weight="bold" fill="#1b1e78" stroke="#1b1e78" stroke-width="0.4" stroke-linejoin="round">6</text>
<text xml:space="preserve" transform="translate(387.67 521.83) scale(0.9600 1)" font-family='"Liberation Sans", sans-serif' font-size="11.6" font-weight="bold" fill="#1b1e78" stroke="#1b1e78" stroke-width="0.4" stroke-linejoin="round">4</text>
<text xml:space="preserve" transform="translate(388.05 548.07) scale(0.9600 1)" font-family='"Liberation Sans", sans-serif' font-size="11.6" font-weight="bold" fill="#1b1e78" stroke="#1b1e78" stroke-width="0.4" stroke-linejoin="round">2</text>
<text xml:space="preserve" transform="translate(388.06 574.19) scale(0.9600 1)" font-family='"Liberation Sans", sans-serif' font-size="11.6" font-weight="bold" fill="#1b1e78" stroke="#1b1e78" stroke-width="0.4" stroke-linejoin="round">0</text>
<text xml:space="preserve" transform="translate(384.34 600.43) scale(0.9600 1)" font-family='"Liberation Sans", sans-serif' font-size="11.6" font-weight="bold" fill="#1b1e78" stroke="#1b1e78" stroke-width="0.4" stroke-linejoin="round">-2</text>
<text xml:space="preserve" transform="translate(383.96 626.55) scale(0.9600 1)" font-family='"Liberation Sans", sans-serif' font-size="11.6" font-weight="bold" fill="#1b1e78" stroke="#1b1e78" stroke-width="0.4" stroke-linejoin="round">-4</text>
<text xml:space="preserve" transform="translate(401.31 644.29) scale(0.9600 1)" font-family='"Liberation Sans", sans-serif' font-size="11.6" font-weight="bold" fill="#1b1e78" stroke="#1b1e78" stroke-width="0.4" stroke-linejoin="round">0</text>
<text xml:space="preserve" transform="translate(443.14 644.29) scale(0.9600 1)" font-family='"Liberation Sans", sans-serif' font-size="11.6" font-weight="bold" fill="#1b1e78" stroke="#1b1e78" stroke-width="0.4" stroke-linejoin="round">20</text>
<text xml:space="preserve" transform="translate(488.15 644.29) scale(0.9600 1)" font-family='"Liberation Sans", sans-serif' font-size="11.6" font-weight="bold" fill="#1b1e78" stroke="#1b1e78" stroke-width="0.4" stroke-linejoin="round">40</text>
<text xml:space="preserve" transform="translate(532.93 644.29) scale(0.9600 1)" font-family='"Liberation Sans", sans-serif' font-size="11.6" font-weight="bold" fill="#1b1e78" stroke="#1b1e78" stroke-width="0.4" stroke-linejoin="round">60</text>
<text xml:space="preserve" transform="translate(577.86 644.29) scale(0.9600 1)" font-family='"Liberation Sans", sans-serif' font-size="11.6" font-weight="bold" fill="#1b1e78" stroke="#1b1e78" stroke-width="0.4" stroke-linejoin="round">80</text>
<text xml:space="preserve" transform="translate(619.49 644.29) scale(0.9600 1)" font-family='"Liberation Sans", sans-serif' font-size="11.6" font-weight="bold" fill="#1b1e78" stroke="#1b1e78" stroke-width="0.4" stroke-linejoin="round">100</text>
<text xml:space="preserve" transform="translate(664.39 644.29) scale(0.9600 1)" font-family='"Liberation Sans", sans-serif' font-size="11.6" font-weight="bold" fill="#1b1e78" stroke="#1b1e78" stroke-width="0.4" stroke-linejoin="round">120</text>
<line x1="405" y1="445.8" x2="674" y2="445.8" stroke="#681b22" stroke-width="1.75" stroke-dasharray="3.8 1.35"/>
<line x1="405" y1="599.6" x2="674" y2="599.6" stroke="#681b22" stroke-width="1.75" stroke-dasharray="3.8 1.35"/>
<line x1="405" y1="522.5" x2="674" y2="522.5" stroke="#2c2a72" stroke-width="1.5"/>
<text xml:space="preserve" transform="translate(626.34 440.4) scale(1.0374 1)" font-family='"Liberation Sans", sans-serif' font-size="10.59" font-weight="bold" fill="#1b1e78" stroke="#1b1e78" stroke-width="0.4" stroke-linejoin="round">+1.96 SD</text>
<text xml:space="preserve" transform="translate(657.84 459.39) scale(0.9558 1)" font-family='"Liberation Sans", sans-serif' font-size="10.88" font-weight="bold" fill="#1b1e78" stroke="#1b1e78" stroke-width="0.4" stroke-linejoin="round">9.5</text>
<text xml:space="preserve" transform="translate(643.85 517.6) scale(0.9673 1)" font-family='"Liberation Sans", sans-serif' font-size="11.63" font-weight="bold" fill="#1b1e78" stroke="#1b1e78" stroke-width="0.4" stroke-linejoin="round">Mean</text>
<text xml:space="preserve" transform="translate(657.96 536.37) scale(0.9023 1)" font-family='"Liberation Sans", sans-serif' font-size="11.56" font-weight="bold" fill="#1b1e78" stroke="#1b1e78" stroke-width="0.4" stroke-linejoin="round">3.7</text>
<text xml:space="preserve" transform="translate(629.78 594.49) scale(0.9944 1)" font-family='"Liberation Sans", sans-serif' font-size="10.88" font-weight="bold" fill="#1b1e78" stroke="#1b1e78" stroke-width="0.4" stroke-linejoin="round">-1.96 SD</text>
<text xml:space="preserve" transform="translate(654.08 613.3) scale(0.9397 1)" font-family='"Liberation Sans", sans-serif' font-size="11.46" font-weight="bold" fill="#1b1e78" stroke="#1b1e78" stroke-width="0.4" stroke-linejoin="round">-2.2</text>
<circle cx="449.3" cy="566.6" r="2.4" fill="none" stroke="#1b1e78" stroke-width="1.25"/>
<circle cx="468.8" cy="575.8" r="2.4" fill="none" stroke="#1b1e78" stroke-width="1.25"/>
<circle cx="472" cy="581.5" r="2.4" fill="none" stroke="#1b1e78" stroke-width="1.25"/>
<circle cx="520.8" cy="442.7" r="2.4" fill="none" stroke="#1b1e78" stroke-width="1.25"/>
<circle cx="471.5" cy="449.3" r="2.4" fill="none" stroke="#1b1e78" stroke-width="1.25"/>
<circle cx="485.7" cy="467.7" r="2.4" fill="none" stroke="#1b1e78" stroke-width="1.25"/>
<circle cx="519.6" cy="494.6" r="2.4" fill="none" stroke="#1b1e78" stroke-width="1.25"/>
<circle cx="486.4" cy="504.6" r="2.4" fill="none" stroke="#1b1e78" stroke-width="1.25"/>
<circle cx="493.7" cy="502.1" r="2.4" fill="none" stroke="#1b1e78" stroke-width="1.25"/>
<circle cx="516.3" cy="502.8" r="2.4" fill="none" stroke="#1b1e78" stroke-width="1.25"/>
<circle cx="520.1" cy="507.9" r="2.4" fill="none" stroke="#1b1e78" stroke-width="1.25"/>
<circle cx="500.4" cy="510.3" r="2.4" fill="none" stroke="#1b1e78" stroke-width="1.25"/>
<circle cx="456.5" cy="526.8" r="2.4" fill="none" stroke="#1b1e78" stroke-width="1.25"/>
<circle cx="464.7" cy="529.9" r="2.4" fill="none" stroke="#1b1e78" stroke-width="1.25"/>
<circle cx="520.8" cy="536" r="2.4" fill="none" stroke="#1b1e78" stroke-width="1.25"/>
<circle cx="483.6" cy="548.6" r="2.4" fill="none" stroke="#1b1e78" stroke-width="1.25"/>
<circle cx="512.1" cy="569.6" r="2.4" fill="none" stroke="#1b1e78" stroke-width="1.25"/>
<circle cx="546.7" cy="563.7" r="2.4" fill="none" stroke="#1b1e78" stroke-width="1.25"/>
<circle cx="540.2" cy="584.5" r="2.4" fill="none" stroke="#1b1e78" stroke-width="1.25"/>
<circle cx="632.7" cy="463.3" r="2.4" fill="none" stroke="#1b1e78" stroke-width="1.25"/>
<circle cx="565" cy="505" r="2.4" fill="none" stroke="#1b1e78" stroke-width="1.25"/>
<circle cx="574.2" cy="506.7" r="2.4" fill="none" stroke="#1b1e78" stroke-width="1.25"/>
<circle cx="598.8" cy="514.9" r="2.4" fill="none" stroke="#1b1e78" stroke-width="1.25"/>
<circle cx="584.5" cy="525" r="2.4" fill="none" stroke="#1b1e78" stroke-width="1.25"/>
<circle cx="593.7" cy="531.5" r="2.4" fill="none" stroke="#1b1e78" stroke-width="1.25"/>
<circle cx="581.9" cy="537" r="2.4" fill="none" stroke="#1b1e78" stroke-width="1.25"/>
<circle cx="576.6" cy="563.8" r="2.4" fill="none" stroke="#1b1e78" stroke-width="1.25"/>
<text xml:space="preserve" transform="translate(433.72 663.2) scale(0.9440 1)" font-family='"Liberation Sans", sans-serif' font-size="11.77" font-weight="bold" fill="#1b1e78" stroke="#1b1e78" stroke-width="0.4" stroke-linejoin="round">Average of [Rater1] and [Rater1 Repeat]</text>
<text xml:space="preserve" transform="translate(367 628.74) rotate(-90) scale(1.1258 1)" font-family='"Liberation Sans", sans-serif' font-size="11.19" font-weight="bold" fill="#1b1e78" stroke="#1b1e78" stroke-width="0.4" stroke-linejoin="round">Difference: [Rater1] - [Rater1 Repeat]</text>
<text xml:space="preserve" transform="translate(353.01 740.5) scale(1.0263 1)" font-family='"Liberation Serif", serif' font-size="38.63" font-weight="bold" fill="#111" stroke="#111" stroke-width="0.7" stroke-linejoin="round">f</text>
<text xml:space="preserve" transform="translate(421.85 753.37) scale(0.8517 1)" font-family='"Liberation Sans", sans-serif' font-size="13.14" font-weight="bold" fill="#1b1e78" stroke="#1b1e78" stroke-width="0.4" stroke-linejoin="round">Bland-Altman Graph: AreaH by MRI-DIXON-F</text>
<line x1="402.3" y1="981.7" x2="407.7" y2="981.7" stroke="#5a1a22" stroke-width="1.15"/>
<line x1="402.3" y1="969.81" x2="405.2" y2="969.81" stroke="#5a1a22" stroke-width="1.15"/>
<line x1="402.3" y1="957.92" x2="407.7" y2="957.92" stroke="#5a1a22" stroke-width="1.15"/>
<line x1="402.3" y1="946.03" x2="405.2" y2="946.03" stroke="#5a1a22" stroke-width="1.15"/>
<line x1="402.3" y1="934.14" x2="407.7" y2="934.14" stroke="#5a1a22" stroke-width="1.15"/>
<line x1="402.3" y1="922.25" x2="405.2" y2="922.25" stroke="#5a1a22" stroke-width="1.15"/>
<line x1="402.3" y1="910.36" x2="407.7" y2="910.36" stroke="#5a1a22" stroke-width="1.15"/>
<line x1="402.3" y1="898.47" x2="405.2" y2="898.47" stroke="#5a1a22" stroke-width="1.15"/>
<line x1="402.3" y1="886.58" x2="407.7" y2="886.58" stroke="#5a1a22" stroke-width="1.15"/>
<line x1="402.3" y1="874.69" x2="405.2" y2="874.69" stroke="#5a1a22" stroke-width="1.15"/>
<line x1="402.3" y1="862.8" x2="407.7" y2="862.8" stroke="#5a1a22" stroke-width="1.15"/>
<line x1="402.3" y1="850.91" x2="405.2" y2="850.91" stroke="#5a1a22" stroke-width="1.15"/>
<line x1="402.3" y1="839.02" x2="407.7" y2="839.02" stroke="#5a1a22" stroke-width="1.15"/>
<line x1="402.3" y1="827.13" x2="405.2" y2="827.13" stroke="#5a1a22" stroke-width="1.15"/>
<line x1="402.3" y1="815.24" x2="407.7" y2="815.24" stroke="#5a1a22" stroke-width="1.15"/>
<line x1="402.3" y1="803.35" x2="405.2" y2="803.35" stroke="#5a1a22" stroke-width="1.15"/>
<line x1="402.3" y1="791.46" x2="407.7" y2="791.46" stroke="#5a1a22" stroke-width="1.15"/>
<line x1="402.3" y1="779.57" x2="405.2" y2="779.57" stroke="#5a1a22" stroke-width="1.15"/>
<line x1="402.3" y1="767.68" x2="407.7" y2="767.68" stroke="#5a1a22" stroke-width="1.15"/>
<line x1="408.1" y1="987.7" x2="408.1" y2="982.3" stroke="#5a1a22" stroke-width="1.15"/>
<line x1="430.3" y1="987.7" x2="430.3" y2="984.8" stroke="#5a1a22" stroke-width="1.15"/>
<line x1="452.5" y1="987.7" x2="452.5" y2="982.3" stroke="#5a1a22" stroke-width="1.15"/>
<line x1="474.7" y1="987.7" x2="474.7" y2="984.8" stroke="#5a1a22" stroke-width="1.15"/>
<line x1="496.9" y1="987.7" x2="496.9" y2="982.3" stroke="#5a1a22" stroke-width="1.15"/>
<line x1="519.1" y1="987.7" x2="519.1" y2="984.8" stroke="#5a1a22" stroke-width="1.15"/>
<line x1="541.3" y1="987.7" x2="541.3" y2="982.3" stroke="#5a1a22" stroke-width="1.15"/>
<line x1="563.5" y1="987.7" x2="563.5" y2="984.8" stroke="#5a1a22" stroke-width="1.15"/>
<line x1="585.7" y1="987.7" x2="585.7" y2="982.3" stroke="#5a1a22" stroke-width="1.15"/>
<line x1="607.9" y1="987.7" x2="607.9" y2="984.8" stroke="#5a1a22" stroke-width="1.15"/>
<line x1="630.1" y1="987.7" x2="630.1" y2="982.3" stroke="#5a1a22" stroke-width="1.15"/>
<line x1="652.3" y1="987.7" x2="652.3" y2="984.8" stroke="#5a1a22" stroke-width="1.15"/>
<line x1="674.5" y1="987.7" x2="674.5" y2="982.3" stroke="#5a1a22" stroke-width="1.15"/>
<rect x="402.3" y="760.6" width="278.1" height="227.1" fill="none" stroke="#621c24" stroke-width="1.7"/>
<text xml:space="preserve" transform="translate(391.55 771.67) scale(0.9600 1)" font-family='"Liberation Sans", sans-serif' font-size="11.6" font-weight="bold" fill="#1b1e78" stroke="#1b1e78" stroke-width="0.4" stroke-linejoin="round">8</text>
<text xml:space="preserve" transform="translate(391.61 795.45) scale(0.9600 1)" font-family='"Liberation Sans", sans-serif' font-size="11.6" font-weight="bold" fill="#1b1e78" stroke="#1b1e78" stroke-width="0.4" stroke-linejoin="round">6</text>
<text xml:space="preserve" transform="translate(391.27 819.23) scale(0.9600 1)" font-family='"Liberation Sans", sans-serif' font-size="11.6" font-weight="bold" fill="#1b1e78" stroke="#1b1e78" stroke-width="0.4" stroke-linejoin="round">4</text>
<text xml:space="preserve" transform="translate(391.65 843.07) scale(0.9600 1)" font-family='"Liberation Sans", sans-serif' font-size="11.6" font-weight="bold" fill="#1b1e78" stroke="#1b1e78" stroke-width="0.4" stroke-linejoin="round">2</text>
<text xml:space="preserve" transform="translate(391.66 866.79) scale(0.9600 1)" font-family='"Liberation Sans", sans-serif' font-size="11.6" font-weight="bold" fill="#1b1e78" stroke="#1b1e78" stroke-width="0.4" stroke-linejoin="round">0</text>
<text xml:space="preserve" transform="translate(387.94 890.63) scale(0.9600 1)" font-family='"Liberation Sans", sans-serif' font-size="11.6" font-weight="bold" fill="#1b1e78" stroke="#1b1e78" stroke-width="0.4" stroke-linejoin="round">-2</text>
<text xml:space="preserve" transform="translate(387.56 914.35) scale(0.9600 1)" font-family='"Liberation Sans", sans-serif' font-size="11.6" font-weight="bold" fill="#1b1e78" stroke="#1b1e78" stroke-width="0.4" stroke-linejoin="round">-4</text>
<text xml:space="preserve" transform="translate(387.9 938.13) scale(0.9600 1)" font-family='"Liberation Sans", sans-serif' font-size="11.6" font-weight="bold" fill="#1b1e78" stroke="#1b1e78" stroke-width="0.4" stroke-linejoin="round">-6</text>
<text xml:space="preserve" transform="translate(387.84 961.91) scale(0.9600 1)" font-family='"Liberation Sans", sans-serif' font-size="11.6" font-weight="bold" fill="#1b1e78" stroke="#1b1e78" stroke-width="0.4" stroke-linejoin="round">-8</text>
<text xml:space="preserve" transform="translate(381.76 985.69) scale(0.9600 1)" font-family='"Liberation Sans", sans-serif' font-size="11.6" font-weight="bold" fill="#1b1e78" stroke="#1b1e78" stroke-width="0.4" stroke-linejoin="round">-10</text>
<text xml:space="preserve" transform="translate(405.01 1003.59) scale(0.9600 1)" font-family='"Liberation Sans", sans-serif' font-size="11.6" font-weight="bold" fill="#1b1e78" stroke="#1b1e78" stroke-width="0.4" stroke-linejoin="round">0</text>
<text xml:space="preserve" transform="translate(446.34 1003.59) scale(0.9600 1)" font-family='"Liberation Sans", sans-serif' font-size="11.6" font-weight="bold" fill="#1b1e78" stroke="#1b1e78" stroke-width="0.4" stroke-linejoin="round">20</text>
<text xml:space="preserve" transform="translate(490.85 1003.59) scale(0.9600 1)" font-family='"Liberation Sans", sans-serif' font-size="11.6" font-weight="bold" fill="#1b1e78" stroke="#1b1e78" stroke-width="0.4" stroke-linejoin="round">40</text>
<text xml:space="preserve" transform="translate(535.13 1003.59) scale(0.9600 1)" font-family='"Liberation Sans", sans-serif' font-size="11.6" font-weight="bold" fill="#1b1e78" stroke="#1b1e78" stroke-width="0.4" stroke-linejoin="round">60</text>
<text xml:space="preserve" transform="translate(579.56 1003.59) scale(0.9600 1)" font-family='"Liberation Sans", sans-serif' font-size="11.6" font-weight="bold" fill="#1b1e78" stroke="#1b1e78" stroke-width="0.4" stroke-linejoin="round">80</text>
<text xml:space="preserve" transform="translate(620.69 1003.59) scale(0.9600 1)" font-family='"Liberation Sans", sans-serif' font-size="11.6" font-weight="bold" fill="#1b1e78" stroke="#1b1e78" stroke-width="0.4" stroke-linejoin="round">100</text>
<text xml:space="preserve" transform="translate(665.09 1003.59) scale(0.9600 1)" font-family='"Liberation Sans", sans-serif' font-size="11.6" font-weight="bold" fill="#1b1e78" stroke="#1b1e78" stroke-width="0.4" stroke-linejoin="round">120</text>
<line x1="408.5" y1="789.1" x2="674" y2="789.1" stroke="#681b22" stroke-width="1.75" stroke-dasharray="3.8 1.35"/>
<line x1="408.5" y1="930.8" x2="674" y2="930.8" stroke="#681b22" stroke-width="1.75" stroke-dasharray="3.8 1.35"/>
<line x1="408.5" y1="859.8" x2="674" y2="859.8" stroke="#2c2a72" stroke-width="1.5"/>
<text xml:space="preserve" transform="translate(626.34 783.69) scale(1.0104 1)" font-family='"Liberation Sans", sans-serif' font-size="10.88" font-weight="bold" fill="#1b1e78" stroke="#1b1e78" stroke-width="0.4" stroke-linejoin="round">+1.96 SD</text>
<text xml:space="preserve" transform="translate(657.3 803.18) scale(0.8860 1)" font-family='"Liberation Sans", sans-serif' font-size="12.29" font-weight="bold" fill="#1b1e78" stroke="#1b1e78" stroke-width="0.4" stroke-linejoin="round">6.2</text>
<text xml:space="preserve" transform="translate(643.85 854.6) scale(0.9673 1)" font-family='"Liberation Sans", sans-serif' font-size="11.63" font-weight="bold" fill="#1b1e78" stroke="#1b1e78" stroke-width="0.4" stroke-linejoin="round">Mean</text>
<text xml:space="preserve" transform="translate(657.78 873.49) scale(0.8982 1)" font-family='"Liberation Sans", sans-serif' font-size="11.72" font-weight="bold" fill="#1b1e78" stroke="#1b1e78" stroke-width="0.4" stroke-linejoin="round">0.2</text>
<text xml:space="preserve" transform="translate(629.78 925.79) scale(0.9944 1)" font-family='"Liberation Sans", sans-serif' font-size="10.88" font-weight="bold" fill="#1b1e78" stroke="#1b1e78" stroke-width="0.4" stroke-linejoin="round">-1.96 SD</text>
<text xml:space="preserve" transform="translate(653.98 945.09) scale(0.9131 1)" font-family='"Liberation Sans", sans-serif' font-size="11.75" font-weight="bold" fill="#1b1e78" stroke="#1b1e78" stroke-width="0.4" stroke-linejoin="round">-5.7</text>
<circle cx="467.1" cy="808.3" r="2.4" fill="none" stroke="#1b1e78" stroke-width="1.25"/>
<circle cx="472.8" cy="914.1" r="2.4" fill="none" stroke="#1b1e78" stroke-width="1.25"/>
<circle cx="490.4" cy="793" r="2.4" fill="none" stroke="#1b1e78" stroke-width="1.25"/>
<circle cx="514.5" cy="811.9" r="2.4" fill="none" stroke="#1b1e78" stroke-width="1.25"/>
<circle cx="488.5" cy="829.2" r="2.4" fill="none" stroke="#1b1e78" stroke-width="1.25"/>
<circle cx="501.4" cy="835.7" r="2.4" fill="none" stroke="#1b1e78" stroke-width="1.25"/>
<circle cx="519.1" cy="843" r="2.4" fill="none" stroke="#1b1e78" stroke-width="1.25"/>
<circle cx="532.4" cy="848.1" r="2.4" fill="none" stroke="#1b1e78" stroke-width="1.25"/>
<circle cx="464.5" cy="848.6" r="2.4" fill="none" stroke="#1b1e78" stroke-width="1.25"/>
<circle cx="478.3" cy="849.5" r="2.4" fill="none" stroke="#1b1e78" stroke-width="1.25"/>
<circle cx="454.7" cy="862.4" r="2.4" fill="none" stroke="#1b1e78" stroke-width="1.25"/>
<circle cx="462.1" cy="860.3" r="2.4" fill="none" stroke="#1b1e78" stroke-width="1.25"/>
<circle cx="481.5" cy="864" r="2.4" fill="none" stroke="#1b1e78" stroke-width="1.25"/>
<circle cx="436.2" cy="870.8" r="2.4" fill="none" stroke="#1b1e78" stroke-width="1.25"/>
<circle cx="482.9" cy="874.7" r="2.4" fill="none" stroke="#1b1e78" stroke-width="1.25"/>
<circle cx="494.8" cy="872.4" r="2.4" fill="none" stroke="#1b1e78" stroke-width="1.25"/>
<circle cx="536.2" cy="871.7" r="2.4" fill="none" stroke="#1b1e78" stroke-width="1.25"/>
<circle cx="557" cy="879.6" r="2.4" fill="none" stroke="#1b1e78" stroke-width="1.25"/>
<circle cx="479.9" cy="884.1" r="2.4" fill="none" stroke="#1b1e78" stroke-width="1.25"/>
<circle cx="509.1" cy="882.2" r="2.4" fill="none" stroke="#1b1e78" stroke-width="1.25"/>
<circle cx="531.3" cy="883.1" r="2.4" fill="none" stroke="#1b1e78" stroke-width="1.25"/>
<circle cx="533.1" cy="894.6" r="2.4" fill="none" stroke="#1b1e78" stroke-width="1.25"/>
<circle cx="563.6" cy="827.6" r="2.4" fill="none" stroke="#1b1e78" stroke-width="1.25"/>
<circle cx="586.2" cy="835.5" r="2.4" fill="none" stroke="#1b1e78" stroke-width="1.25"/>
<circle cx="629.6" cy="825.9" r="2.4" fill="none" stroke="#1b1e78" stroke-width="1.25"/>
<circle cx="565.5" cy="878.6" r="2.4" fill="none" stroke="#1b1e78" stroke-width="1.25"/>
<circle cx="492.8" cy="971.6" r="2.4" fill="none" stroke="#1b1e78" stroke-width="1.25"/>
<text xml:space="preserve" transform="translate(435.82 1022.4) scale(0.8978 1)" font-family='"Liberation Sans", sans-serif' font-size="12.35" font-weight="bold" fill="#1b1e78" stroke="#1b1e78" stroke-width="0.4" stroke-linejoin="round">Average of [Rater1] and [Rater1 Repeat]</text>
<text xml:space="preserve" transform="translate(367 986.05) rotate(-90) scale(1.1376 1)" font-family='"Liberation Sans", sans-serif' font-size="11.19" font-weight="bold" fill="#1b1e78" stroke="#1b1e78" stroke-width="0.4" stroke-linejoin="round">Difference: [Rater1] - [Rater1 Repeat]</text>
</svg>
</body></html>
